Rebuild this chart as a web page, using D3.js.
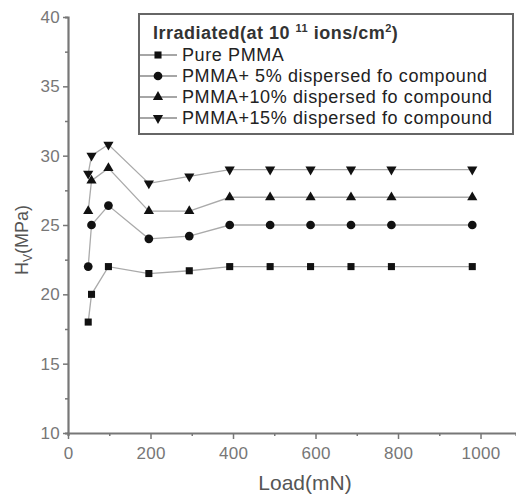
<!DOCTYPE html>
<html>
<head>
<meta charset="utf-8">
<script src="https://cdn.jsdelivr.net/npm/d3@7"></script>
<style>
  body { margin: 0; background: #fff; }
  svg { font-family: "Liberation Sans", Arial, sans-serif; }
</style>
</head>
<body>
<svg id="chart" width="516" height="497"></svg>
<script>
// load values (mN)
const loads = [49, 57, 98, 196, 294, 392, 490, 588, 686, 784, 980];

const purePMMA = [18, 20, 22, 21.5, 21.7, 22, 22, 22, 22, 22, 22];
const pmma5 = [22, 25, 26.4, 24, 24.2, 25, 25, 25, 25, 25, 25];
const pmma10 = [26, 28.2, 29.1, 26, 26, 27, 27, 27, 27, 27, 27];
const pmma15 = [28.7, 30, 30.8, 28, 28.5, 29, 29, 29, 29, 29, 29];

const seriesNames = [
  "Pure PMMA",
  "PMMA+ 5% dispersed fo compound",
  "PMMA+10% dispersed fo compound",
  "PMMA+15% dispersed fo compound",
];
const seriesValues = [purePMMA, pmma5, pmma10, pmma15];

const xTicks = [0, 200, 400, 600, 800, 1000];
const yTicks = [10, 15, 20, 25, 30, 35, 40];

const svg = d3.select("#chart");

const x = d3.scaleLinear().domain([0, 1086]).range([68, 516]);
const y = d3.scaleLinear().domain([10, 40]).range([433, 17]);

const shapes = [
  d3.symbol().type(d3.symbolSquare).size(50),
  d3.symbol().type(d3.symbolCircle).size(60),
  d3.symbol().type(d3.symbolTriangle).size(45),
  d3.symbol().type(d3.symbolTriangle).size(45),
];
const rot = [0, 0, 0, 180];

// axes
const xAxis = svg.append("g").attr("transform", `translate(0,${y(10)})`);
xAxis.call(d3.axisBottom(x).tickValues(d3.range(100, 1001, 200)).tickSize(3).tickFormat(""));
xAxis.call((g) => {
  const major = g.append("g").call(
    d3.axisBottom(x).tickValues(xTicks).tickSize(6).tickPadding(8).tickFormat(d3.format("d"))
  );
  major.select(".domain").remove();
});
xAxis.selectAll(".domain").attr("stroke", "#777").attr("stroke-width", 2.2);
xAxis.selectAll(".tick line").attr("stroke", "#777").attr("stroke-width", 1.5);
xAxis.selectAll(".tick text").attr("fill", "#777").attr("font-size", 17).attr("letter-spacing", 0.3);

const yAxis = svg.append("g").attr("transform", `translate(${x(0)},0)`);
yAxis.call(d3.axisLeft(y).tickValues(d3.range(12.5, 40, 5)).tickSize(3).tickFormat(""));
yAxis.call((g) => {
  const major = g.append("g").call(d3.axisLeft(y).tickValues(yTicks).tickSize(5).tickPadding(3));
  major.select(".domain").remove();
});
yAxis.selectAll(".domain").attr("stroke", "#777").attr("stroke-width", 2.2);
yAxis.selectAll(".tick line").attr("stroke", "#777").attr("stroke-width", 1.5);
yAxis.selectAll(".tick text").attr("fill", "#777").attr("font-size", 17).attr("letter-spacing", 0.3);

// axis titles
svg.append("text")
  .attr("x", 305).attr("y", 490)
  .attr("text-anchor", "middle")
  .attr("font-size", 21).attr("fill", "#555")
  .text("Load(mN)");

const yl = svg.append("text")
  .attr("transform", "translate(28,240) rotate(-90)")
  .attr("text-anchor", "middle")
  .attr("font-size", 18).attr("fill", "#555");
yl.append("tspan").text("H");
yl.append("tspan").attr("font-size", 12).attr("dy", 4).text("V");
yl.append("tspan").attr("dy", -4).text("(MPa)");

// series
const line = d3.line().x((d) => x(d[0])).y((d) => y(d[1]));

seriesValues.forEach((vals, i) => {
  const pts = loads.map((l, j) => [l, vals[j]]);
  svg.append("path")
    .attr("d", line(pts))
    .attr("fill", "none")
    .attr("stroke", "#aaa")
    .attr("stroke-width", 1.3);
  svg.append("g").selectAll("path")
    .data(pts)
    .enter()
    .append("path")
    .attr("d", shapes[i])
    .attr("transform", (d) => `translate(${x(d[0])},${y(d[1])}) rotate(${rot[i]})`)
    .attr("fill", "#111");
});

// legend
const lg = svg.append("g");
lg.append("rect")
  .attr("x", 139).attr("y", 14).attr("width", 374).attr("height", 120)
  .attr("fill", "#fff").attr("stroke", "#666").attr("stroke-width", 2);

const title = lg.append("text")
  .attr("x", 153).attr("y", 39)
  .attr("font-size", 18).attr("font-weight", "bold").attr("fill", "#333")
  .attr("letter-spacing", 0.5);
title.append("tspan").text("Irradiated(at 10 ");
title.append("tspan").attr("font-size", 11).attr("dy", -7).text("11");
title.append("tspan").attr("dy", 7).text(" ions/cm");
title.append("tspan").attr("font-size", 11).attr("dy", -7).text("2");
title.append("tspan").attr("dy", 7).text(")");

seriesNames.forEach((name, i) => {
  const cy = 55 + i * 21;
  lg.append("line")
    .attr("x1", 140).attr("x2", 177).attr("y1", cy).attr("y2", cy)
    .attr("stroke", "#888").attr("stroke-width", 1.3);
  lg.append("path")
    .attr("d", shapes[i])
    .attr("transform", `translate(158,${cy}) rotate(${rot[i]})`)
    .attr("fill", "#111");
  lg.append("text")
    .attr("x", 182).attr("y", cy + 6)
    .attr("font-size", 18).attr("fill", "#222")
    .attr("letter-spacing", 0.6)
    .text(name);
});
</script>
</body>
</html>
